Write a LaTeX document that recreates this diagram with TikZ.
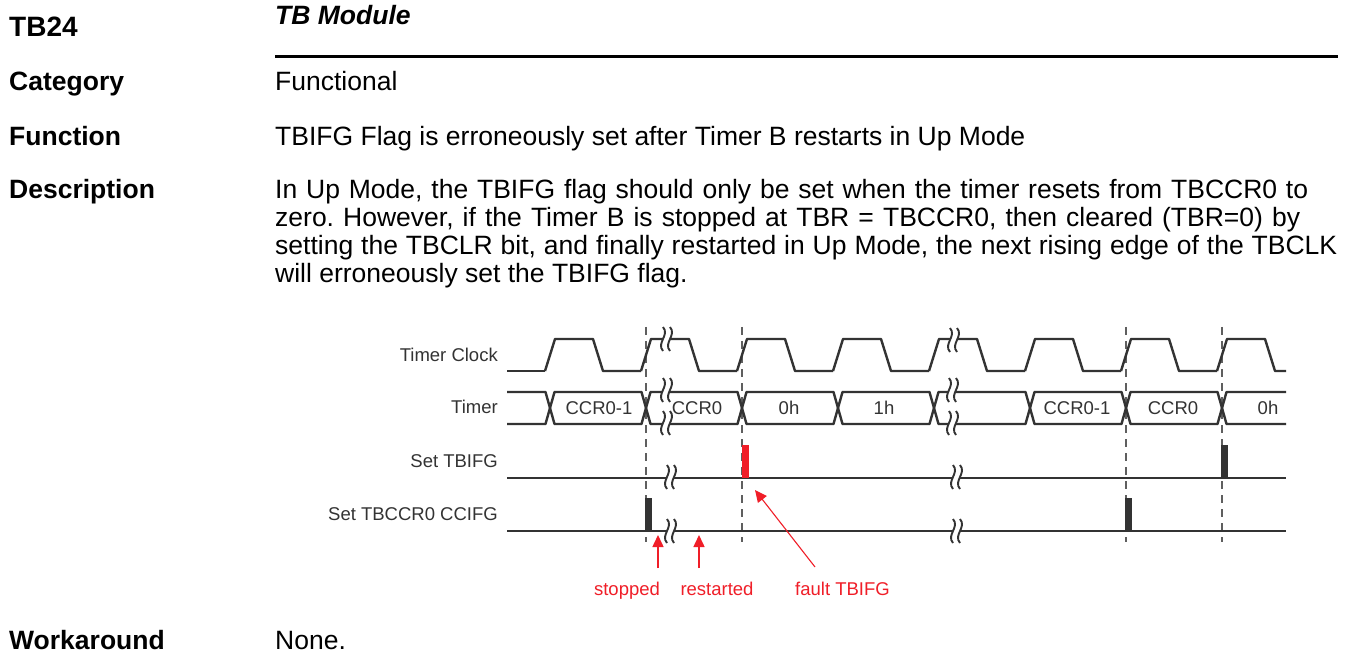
\documentclass[tikz,border=0pt]{standalone}
\usepackage{fontspec}
\setmainfont{Liberation Sans}
\usetikzlibrary{arrows.meta}
\frenchspacing

\definecolor{wavegray}{RGB}{51,51,51}
\definecolor{dashgray}{RGB}{95,95,95}
\definecolor{notered}{RGB}{240,30,40}

\tikzset{
  lbl/.style={anchor=base west,inner sep=0pt,font=\fontsize{26.5}{28}\selectfont\bfseries},
  body/.style={anchor=base west,inner sep=0pt,font=\fontsize{26.5}{28}\selectfont},
  sig/.style={anchor=base east,inner sep=0pt,font=\fontsize{18.5}{20}\selectfont,text=wavegray},
  val/.style={anchor=base,inner sep=0pt,font=\fontsize{18.5}{20}\selectfont,text=wavegray},
  note/.style={anchor=base,inner sep=0pt,font=\fontsize{18.5}{20}\selectfont,text=notered},
  wave/.style={draw=wavegray,line width=2.4pt,line join=round},
  guide/.style={draw=dashgray,line width=1.4pt,dash pattern=on 8pt off 6pt},
  pulse/.style={fill=wavegray},
  brkline/.style={draw=wavegray,line width=1.9pt},
  redarrow/.style={draw=notered,line width=1.5pt,-{Triangle[length=12pt,width=11pt]}}
}

% break mark at x=#1, centred on y=#2
\newcommand{\brk}[2]{
  \fill[white] (#1,#2-12) .. controls (#1+7,#2-4) and (#1-7,#2+4) .. (#1,#2+12)
    -- (#1+7,#2+12) .. controls (#1,#2+4) and (#1+14,#2-4) .. (#1+7,#2-12) -- cycle;
  \draw[brkline] (#1,#2-12) .. controls (#1+7,#2-4) and (#1-7,#2+4) .. (#1,#2+12);
  \draw[brkline] (#1+7,#2-12) .. controls (#1+14,#2-4) and (#1,#2+4) .. (#1+7,#2+12);
}

% one value of the timer bus between two crossings
\newcommand{\busseg}[2]{
  \draw[wave] (#1,408) -- (#1+4.5,392) -- (#2-4.5,392) -- (#2,408)
    -- (#2-4.5,424) -- (#1+4.5,424) -- cycle;
}

\begin{document}
\begin{tikzpicture}[x=1pt,y=-1pt]
  \useasboundingbox (0,0) rectangle (1347,652);
  \fill[white] (0,0) rectangle (1347,652);

  % header and text
  \node[lbl,font=\fontsize{28}{30}\selectfont\bfseries] (tbid) at (9,37) {TB24};
  \node[lbl,font=\fontsize{26.5}{28}\selectfont\bfseries\itshape] (module) at (275,25) {TB Module};
  \draw[line width=3pt] (275,57) -- (1338,57);

  \node[lbl] (catlbl) at (9,91) {Category};
  \node[body] (cattxt) at (275,91) {Functional};
  \node[lbl] (funlbl) at (9,146) {Function};
  \node[body] (funtxt) at (275,146) {TBIFG Flag is erroneously set after Timer B restarts in Up Mode};
  \node[lbl] (deslbl) at (9,199) {Description};
  \node[body] (desa) at (275,199) {\makebox[1033pt][s]{In Up Mode, the TBIFG flag should only be set when the timer resets from TBCCR0 to}};
  \node[body] (desb) at (275,227) {\makebox[1025pt][s]{zero. However, if the Timer B is stopped at TBR = TBCCR0, then cleared (TBR=0) by}};
  \node[body] (desc) at (275,255) {\makebox[1062pt][s]{setting the TBCLR bit, and finally restarted in Up Mode, the next rising edge of the TBCLK}};
  \node[body] (desd) at (275,283) {will erroneously set the TBIFG flag.};
  \node[lbl,text depth=0pt] (worklbl) at (9,649) {Workaround};
  \node[body,text depth=0pt] (worktxt) at (275,649) {None.};

  % signal names
  \node[sig] (clk) at (498,361) {Timer Clock};
  \node[sig] (tmr) at (498,413.5) {Timer};
  \node[sig] (ifg) at (498,467) {Set TBIFG};
  \node[sig] (ccifg) at (498,520) {Set TBCCR0 CCIFG};

  % guide lines
  \draw[guide] (646,327) -- (646,542);
  \draw[guide] (742,327) -- (742,542);
  \draw[guide] (1126,327) -- (1126,542);
  \draw[guide] (1222,327) -- (1222,542);

  % timer clock
  \draw[wave] (507,371) -- (545,371);
  \foreach \r in {545,641,737,833,929,1025,1121}
    \draw[wave] (\r,371) -- (\r+10,339) -- (\r+48,339) -- (\r+58,371) -- (\r+96,371);
  \draw[wave] (1217,371) -- (1227,339) -- (1265,339) -- (1275,371) -- (1286,371);

  % timer bus
  \draw[wave] (507,392) -- (545.5,392) -- (550,408) -- (545.5,424) -- (507,424);
  \busseg{550}{646}
  \busseg{646}{742}
  \busseg{742}{838}
  \busseg{838}{934}
  \busseg{934}{1030}
  \busseg{1030}{1126}
  \busseg{1126}{1222}
  \draw[wave] (1286,392) -- (1226.5,392) -- (1222,408) -- (1226.5,424) -- (1286,424);

  % flags
  \draw[wave] (507,478) -- (1286,478);
  \draw[wave] (507,531) -- (1286,531);
  \fill[notered] (742,445) rectangle (748.5,478);
  \fill[pulse] (1221,445) rectangle (1228,478);
  \fill[pulse] (645,498) rectangle (652,531);
  \fill[pulse] (1124.5,498) rectangle (1131.5,531);

  % breaks
  \brk{663}{339}
  \brk{950}{340}
  \brk{663}{390}
  \brk{663}{423}
  \brk{949}{390}
  \brk{949}{423}
  \brk{667}{477}
  \brk{667}{531}
  \brk{953}{477}
  \brk{953}{531}

  % bus values
  \node[val] (v1) at (599,414) {CCR0-1};
  \node[val] (v2) at (697,414) {CCR0};
  \node[val] (v3) at (789,414) {0h};
  \node[val] (v4) at (884,414) {1h};
  \node[val] (v5) at (1077,414) {CCR0-1};
  \node[val] (v6) at (1173,414) {CCR0};
  \node[val] (v7) at (1268,414) {0h};

  % notes
  \node[note] (stopped) at (627,595) {stopped};
  \node[note] (restarted) at (717,595) {restarted};
  \node[note] (fault) at (842.5,595) {fault TBIFG};
  \coordinate (stopfoot) at (658,568);
  \coordinate (stoptip) at (658,535);
  \coordinate (restfoot) at (699,568);
  \coordinate (resttip) at (699,535);
  \coordinate (faultfoot) at (815,567);
  \coordinate (faulttip) at (755,490);
  \draw[redarrow] (stopfoot) -- (stoptip);
  \draw[redarrow] (restfoot) -- (resttip);
  \draw[redarrow,line width=1.1pt] (faultfoot) -- (faulttip);
\end{tikzpicture}
\end{document}
